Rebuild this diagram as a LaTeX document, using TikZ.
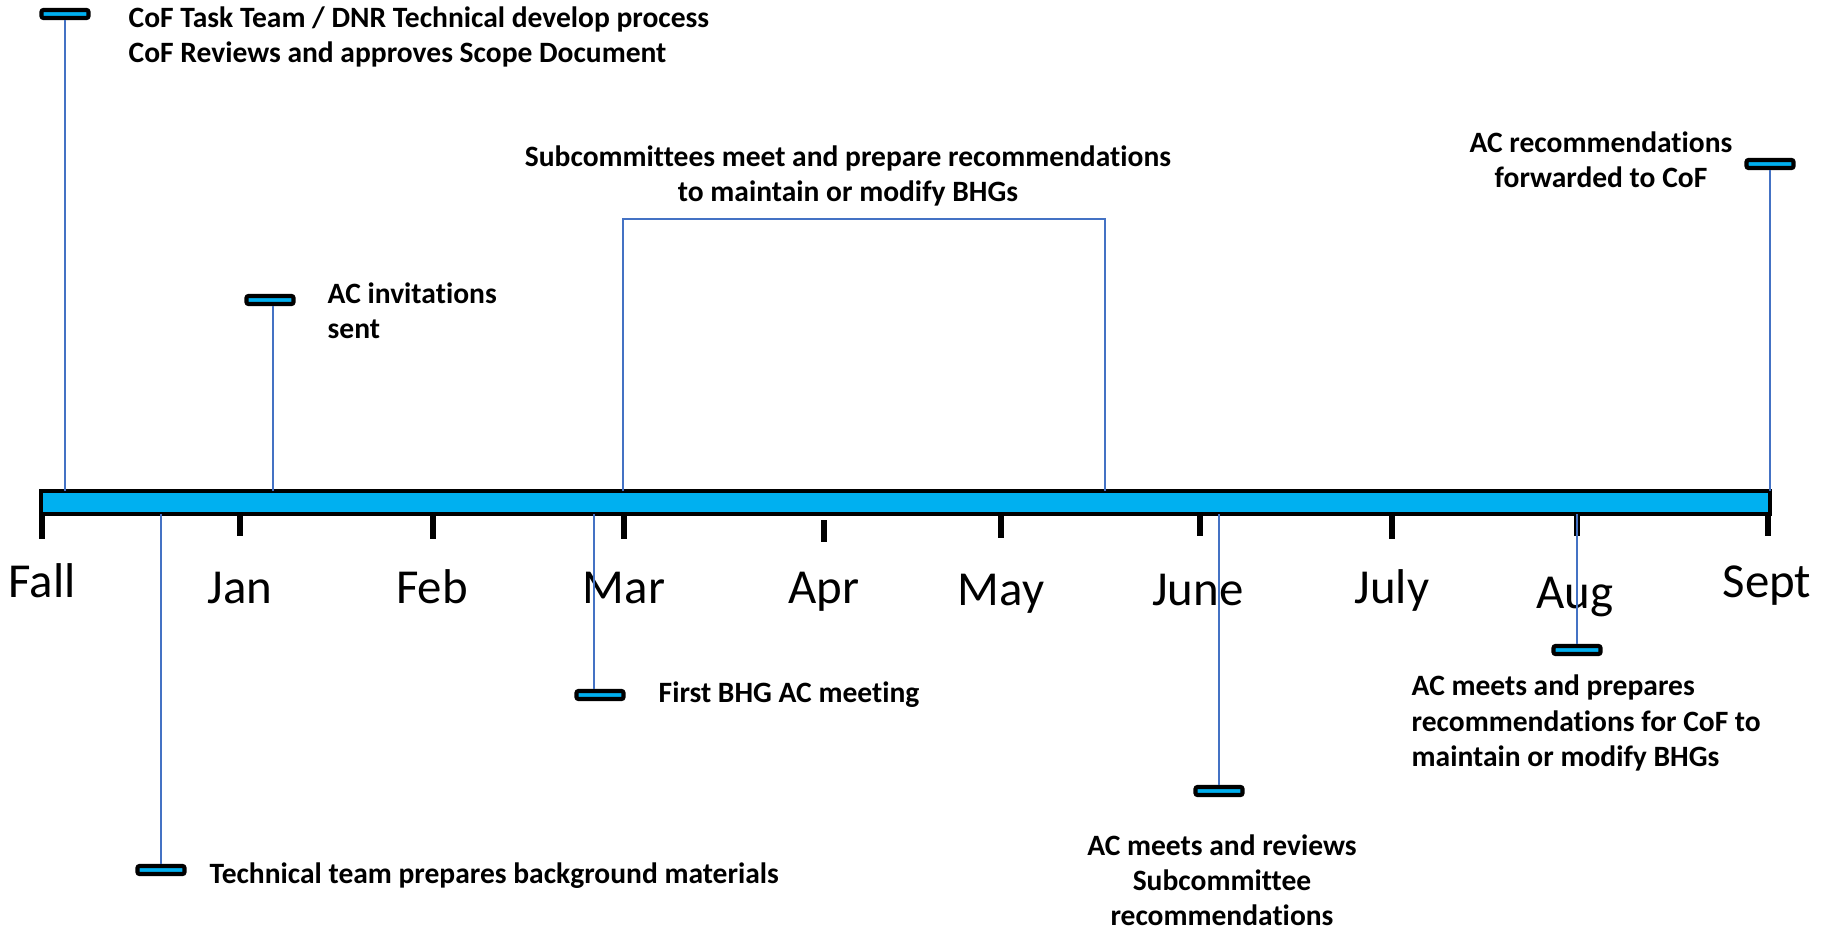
\documentclass[tikz,border=0pt]{standalone}
\usepackage{fontspec}
\setmainfont{Carlito}[Ligatures=NoCommon]
\usepackage{xcolor}
\usepackage{tikz}
\usetikzlibrary{positioning, calc}

\definecolor{barcyan}{HTML}{00B0F0}
\definecolor{linkblue}{HTML}{4472C4}

\begin{document}
\begin{tikzpicture}[
    x=0.1mm, y=-0.1mm,
    marker/.style={rectangle, draw=black, line width=1.2pt, fill=barcyan, rounded corners=0.6pt,
        minimum width=4.7mm, minimum height=0.8mm, inner sep=0pt},
    link/.style={draw=linkblue, line width=0.6pt},
    tick/.style={draw=black, line width=1.7pt},
    month/.style={font=\fontsize{13.9}{17}\selectfont, anchor=base, inner sep=0pt},
    note/.style={font=\bfseries\fontsize{8.4}{10}\selectfont, inner sep=0pt}
]
    \useasboundingbox (0,0) rectangle (1829,929);
    % --- 1. Timeline bar and month ticks ---
    \draw[black, line width=1.2pt, fill=barcyan] (41,491) rectangle (1770,514);
    \draw[tick] (42,514) -- ++(0,25);
    \draw[tick] (240,514) -- ++(0,22);
    \draw[tick] (433,514) -- ++(0,25);
    \draw[tick] (624,514) -- ++(0,25);
    \draw[tick] (824,520) -- ++(0,22);
    \draw[tick] (1001,514) -- ++(0,24);
    \draw[tick] (1200,514) -- ++(0,22);
    \draw[tick] (1392,514) -- ++(0,25);
    \draw[tick] (1577,514) -- ++(0,22);
    \draw[tick] (1768,514) -- ++(0,22);
    % --- 2. Month labels ---
    \node (fall) [month] at (42,597) {Fall};
    \node (jan) [month] at (240,603) {Jan};
    \node (feb) [month] at (432,603) {Feb};
    \node (mar) [month] at (624,603) {Mar};
    \node (apr) [month] at (824,603) {Apr};
    \node (may) [month] at (1001,605) {May};
    \node (june) [month] at (1198,605) {June};
    \node (july) [month] at (1392,603) {July};
    \node (aug) [month] at (1575,608) {Aug};
    \node (sept) [month] at (1767,597) {Sept};
    % --- 3. Milestones above the bar ---
    \node (scope_mark) [marker] at (65,14) {};
    \coordinate (scope_bar) at (65,491);
    \draw[link] (scope_mark) -- (scope_bar);
    \node (scope_text) [note, anchor=west, align=left] at (128,37)
        {CoF Task Team / DNR Technical develop process\\CoF Reviews and approves Scope Document};

    \node (invite_mark) [marker] at (270,300) {};
    \coordinate (invite_bar) at (273,491);
    \draw[link] (invite_mark.south -| invite_bar) -- (invite_bar);
    \node (invite_text) [note, anchor=west, align=left] at (327,311) {AC invitations\\sent};

    % bracket for the subcommittee period
    \coordinate (sub_start) at (623,491);
    \coordinate (sub_end) at (1105,491);
    \draw[link] (sub_start) -- (sub_start |- 0,219) -- (sub_end |- 0,219) -- (sub_end);
    \node (sub_text) [note, align=center] at (848,176)
        {Subcommittees meet and prepare recommendations\\to maintain or modify BHGs};

    \node (fwd_mark) [marker] at (1770,164) {};
    \coordinate (fwd_bar) at (1770,491);
    \draw[link] (fwd_mark) -- (fwd_bar);
    \node (fwd_text) [note, align=center] at (1601,160) {AC recommendations\\forwarded to CoF};
    % --- 4. Milestones below the bar ---
    \coordinate (bkg_bar) at (161,514);
    \node (bkg_mark) [marker] at (161,870) {};
    \draw[link] (bkg_bar) -- (bkg_mark);
    \node (bkg_text) [note, anchor=west] at (209,876) {Technical team prepares background materials};

    \coordinate (first_bar) at (594,514);
    \node (first_mark) [marker] at (600,695) {};
    \draw[link] (first_bar) -- (first_bar |- first_mark.north);
    \node (first_text) [note, anchor=west] at (658,695) {First BHG AC meeting};

    \coordinate (review_bar) at (1219,514);
    \node (review_mark) [marker] at (1219,791) {};
    \draw[link] (review_bar) -- (review_mark);
    \node (review_text) [note, align=center] at (1222,880)
        {AC meets and reviews\\Subcommittee\\recommendations};

    \coordinate (prep_bar) at (1577,514);
    \node (prep_mark) [marker] at (1577,650) {};
    \draw[link] (prep_bar) -- (prep_mark);
    \node (prep_text) [note, anchor=west, align=left] at (1411,723)
        {AC meets and prepares\\recommendations for CoF to\\maintain or modify BHGs};
\end{tikzpicture}
\end{document}
